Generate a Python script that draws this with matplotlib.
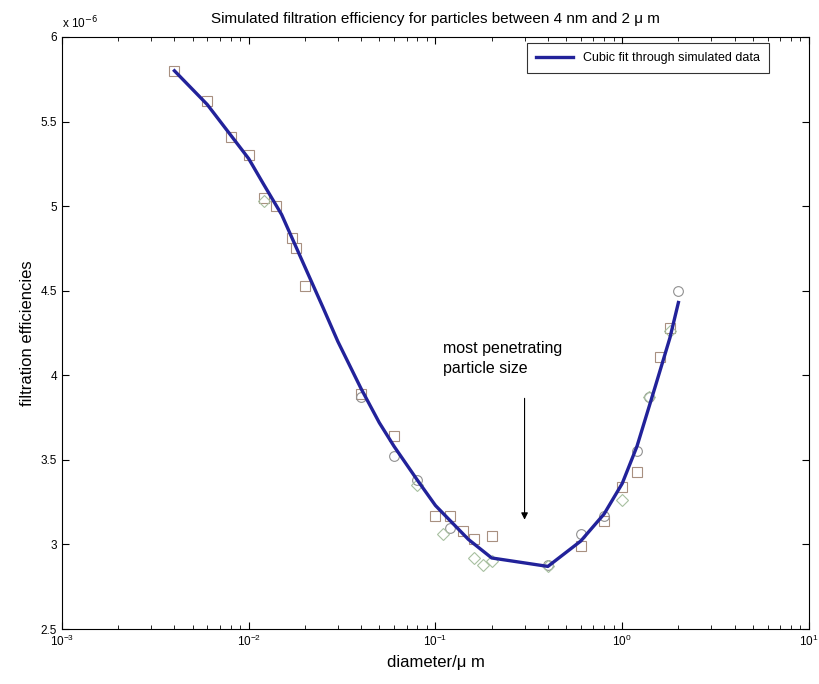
import matplotlib.pyplot as plt
from matplotlib.ticker import LogLocator, NullFormatter

plt.rcParams["font.family"] = ["Liberation Sans", "DejaVu Sans"]

# cubic fit through the simulated data (values in units of 1e-6)
fit_d = [0.004, 0.006, 0.008, 0.01, 0.012, 0.015, 0.02, 0.025, 0.03, 0.04, 0.05, 0.06,
         0.08, 0.1, 0.15, 0.2, 0.4, 0.6, 0.8, 1.0, 1.2, 1.5, 1.8, 2.0]
fit_v = [5.80, 5.60, 5.42, 5.28, 5.13, 4.95, 4.64, 4.40, 4.20, 3.92, 3.72, 3.58,
         3.38, 3.23, 3.03, 2.92, 2.87, 3.02, 3.18, 3.36, 3.58, 3.93, 4.22, 4.43]

# simulated points, three runs
sq_d = [0.004, 0.006, 0.008, 0.01, 0.012, 0.014, 0.017, 0.018, 0.02, 0.04, 0.06,
        0.1, 0.12, 0.14, 0.16, 0.2, 0.6, 0.8, 1.0, 1.2, 1.6, 1.8]
sq_v = [5.80, 5.62, 5.41, 5.30, 5.05, 5.00, 4.81, 4.75, 4.53, 3.89, 3.64,
        3.17, 3.17, 3.08, 3.03, 3.05, 2.99, 3.14, 3.34, 3.43, 4.11, 4.28]
ci_d = [0.04, 0.06, 0.08, 0.12, 0.4, 0.6, 0.8, 1.2, 1.4, 2.0]
ci_v = [3.87, 3.52, 3.38, 3.10, 2.88, 3.06, 3.17, 3.55, 3.87, 4.50]
di_d = [0.012, 0.08, 0.11, 0.16, 0.18, 0.2, 0.4, 1.0, 1.4, 1.8]
di_v = [5.03, 3.35, 3.06, 2.92, 2.88, 2.90, 2.87, 3.26, 3.87, 4.26]

fig = plt.figure(figsize=(8.19, 6.84), dpi=100)
ax = fig.add_axes([0.0757, 0.0804, 0.912, 0.8656])

ax.plot(sq_d, sq_v, "s", mfc="none", mec="#a89080", ms=7, mew=0.8)
ax.plot(ci_d, ci_v, "o", mfc="none", mec="#909090", ms=7, mew=0.8)
ax.plot(di_d, di_v, "D", mfc="none", mec="#a8c0a0", ms=6, mew=0.8)
ax.plot(fit_d, fit_v, color="#22229a", lw=2.4, label="Cubic fit through simulated data")

ax.set_xscale("log")
ax.set_xlim(1e-3, 10)
ax.set_ylim(2.5, 6)
ax.set_yticks([2.5, 3, 3.5, 4, 4.5, 5, 5.5, 6])
ax.set_yticklabels(["2.5", "3", "3.5", "4", "4.5", "5", "5.5", "6"])
ax.xaxis.set_minor_locator(LogLocator(base=10, subs=range(2, 10)))
ax.xaxis.set_minor_formatter(NullFormatter())
ax.tick_params(which="both", direction="in", top=True, right=True, labelsize=8.5)
ax.tick_params(which="major", length=5)
ax.tick_params(which="minor", length=3)

ax.set_title("Simulated filtration efficiency for particles between 4 nm and 2 \u03bc m",
             fontsize=11, pad=10)
ax.set_xlabel("diameter/\u03bc m", fontsize=12)
ax.set_ylabel("filtration efficiencies", fontsize=12)
ax.text(0.0, 1.01, r"x 10$^{-6}$", transform=ax.transAxes, fontsize=8.5,
        ha="left", va="bottom")

ax.annotate("", xy=(0.3, 3.13), xytext=(0.3, 3.88),
            arrowprops=dict(arrowstyle="-|>", color="black", lw=0.8))
ax.text(0.11, 4.2, "most penetrating\nparticle size", fontsize=11.5,
        ha="left", va="top", linespacing=1.4)

leg = ax.legend(loc="upper right", fontsize=9, fancybox=False, edgecolor="black",
                handlelength=3, borderpad=0.7, borderaxespad=0.5,
                bbox_to_anchor=(0.955, 1.0))
leg.get_frame().set_linewidth(0.8)

fig.savefig("out.png", dpi=100)
